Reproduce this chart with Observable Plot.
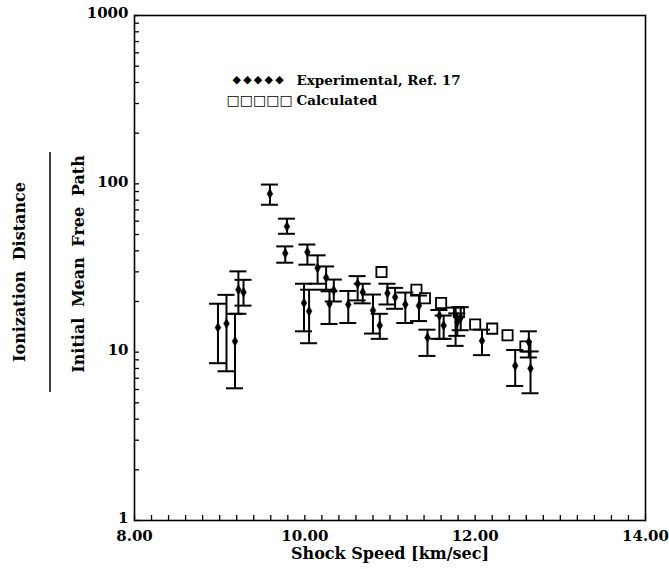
<!DOCTYPE html>
<html>
<head>
<meta charset="utf-8">
<script src="https://cdn.jsdelivr.net/npm/d3@7"></script>
<script src="https://cdn.jsdelivr.net/npm/@observablehq/plot@0.6"></script>
<style>
  body { margin: 0; background: #fff; }
</style>
</head>
<body>
<div id="chart"></div>
<script>
// Experimental ionization distances (Ref. 17) with their error ranges
const speed    = [8.98, 9.08, 9.18, 9.22, 9.28, 9.59, 9.77, 9.79, 9.99, 10.03, 10.05, 10.15, 10.25, 10.29, 10.34, 10.51, 10.62, 10.68, 10.80, 10.88, 10.97, 11.06, 11.18, 11.34, 11.44, 11.58, 11.63, 11.77, 11.79, 11.83, 12.08, 12.47, 12.63, 12.65];
const ratio    = [14.0, 14.8, 11.6, 23.5, 22.7, 87.3, 38.7, 55.8, 19.6, 39.3, 17.5, 31.6, 27.7, 19.4, 23.3, 19.2, 25.5, 22.7, 17.7, 14.4, 22.4, 21.2, 19.2, 18.9, 12.2, 16.5, 14.4, 16.5, 15.1, 16.0, 11.7, 8.3, 11.5, 8.0];
const ratioLow = [8.6, 7.7, 6.1, 16.9, 18.9, 75.1, 34.0, 50.5, 13.3, 33.1, 11.3, 25.5, 23.5, 14.7, 20.0, 14.9, 20.3, 19.5, 12.9, 12.0, 19.2, 18.1, 14.9, 15.3, 9.5, 12.0, 12.0, 10.9, 12.5, 13.5, 9.6, 6.3, 9.3, 5.7];
const ratioHigh = [19.4, 21.9, 16.9, 30.2, 26.9, 99, 42.5, 62.1, 25.5, 43.6, 23.5, 37.6, 32.3, 23.0, 27.0, 23.1, 28.3, 25.5, 22.0, 16.9, 25.5, 24.1, 22.6, 21.7, 13.6, 17.8, 16.5, 18.4, 17.0, 18.5, 13.6, 10.3, 13.3, 10.1];

// Calculated values
const calcSpeed = [10.90, 11.31, 11.41, 11.60, 11.81, 12.00, 12.20, 12.38, 12.59];
const calcRatio = [29.9, 23.5, 20.9, 19.6, 17.3, 14.6, 13.8, 12.6, 10.8];

// Axis ticks and labels
const xTickLabels = [8, 10, 12, 14];
const xMinorTicks = d3.range(0, 31).map(i => 8 + i * 0.2);
const yTickLabels = [1, 10, 100, 1000];
const yMinorTicks = [1, 10, 100].flatMap(d => d3.range(1, 10).map(k => k * d)).concat([1000]);

// Legend entries
const legendSymbols = ["\u25C6\u2009\u25C6\u2009\u25C6\u2009\u25C6\u2009\u25C6", "\u25A1\u25A1\u25A1\u25A1\u25A1"];
const legendLabels = ["Experimental, Ref. 17", "Calculated"];

const experimental = speed.map((x, i) => ({x, y: ratio[i], lo: ratioLow[i], hi: ratioHigh[i]}));
const calculated = calcSpeed.map((x, i) => ({x, y: calcRatio[i]}));

const FONT = "DejaVu Serif";
const capHalf = 0.1; // half width of the error-bar caps, km/sec

// Two-level y title: "Ionization Distance" over "Initial Mean Free Path"
function yTitle(index, scales, values, dims) {
  const g = d3.create("svg:g")
    .attr("font-family", FONT)
    .attr("font-weight", "bold")
    .attr("font-size", 16)
    .attr("word-spacing", 5)
    .attr("fill", "black");
  g.append("text")
    .attr("transform", "translate(19,272) rotate(-90)")
    .attr("text-anchor", "middle")
    .attr("dy", "0.35em")
    .text("Ionization Distance");
  g.append("line")
    .attr("x1", 50).attr("x2", 50)
    .attr("y1", 152).attr("y2", 392)
    .attr("stroke", "black")
    .attr("stroke-width", 1.5);
  g.append("text")
    .attr("transform", "translate(78,264) rotate(-90)")
    .attr("text-anchor", "middle")
    .attr("dy", "0.35em")
    .text("Initial Mean Free Path");
  return g.node();
}

const chart = Plot.plot({
  width: 669,
  height: 569,
  marginLeft: 134,
  marginRight: 24,
  marginTop: 15,
  marginBottom: 49,
  style: {fontFamily: FONT, fontSize: "16px", fontWeight: "bold", color: "black", background: "white"},
  x: {domain: [8, 14], axis: null},
  y: {type: "log", domain: [1, 1000], axis: null},
  marks: [
    Plot.frame({stroke: "black", strokeWidth: 1.6}),
    Plot.axisX(xMinorTicks, {anchor: "bottom", tickSize: -5, tickFormat: () => "", label: null, strokeWidth: 1.3}),
    Plot.axisY(yMinorTicks, {anchor: "left", tickSize: -5, tickFormat: () => "", label: null, strokeWidth: 1.3}),
    Plot.text(xTickLabels, {x: d => d, frameAnchor: "bottom", dy: 20, text: d => d3.format(".2f")(d), fontSize: 15, fontWeight: "bold"}),
    Plot.text(yTickLabels, {y: d => d, frameAnchor: "left", dx: -6, dy: -2, textAnchor: "end", text: d => String(d), fontSize: 15, fontWeight: "bold"}),
    Plot.text(["Shock Speed [km/sec]"], {frameAnchor: "bottom", dy: 38, text: d => d, fontSize: 16, fontWeight: "bold"}),
    yTitle,
    // legend
    Plot.text([legendSymbols[0]], {frameAnchor: "top-left", dx: 98, dy: 60, textAnchor: "start", text: d => d, fontSize: 11, fontFamily: "DejaVu Sans"}),
    Plot.text([legendLabels[0]], {frameAnchor: "top-left", dx: 162, dy: 60, textAnchor: "start", text: d => d, fontSize: 13.5, fontWeight: "bold"}),
    Plot.text([legendSymbols[1]], {frameAnchor: "top-left", dx: 92, dy: 80, textAnchor: "start", text: d => d, fontSize: 14, fontFamily: "DejaVu Sans"}),
    Plot.text([legendLabels[1]], {frameAnchor: "top-left", dx: 162, dy: 80, textAnchor: "start", text: d => d, fontSize: 13.5, fontWeight: "bold"}),
    // calculated squares
    Plot.dot(calculated, {x: "x", y: "y", symbol: "square2", r: 6.5, stroke: "black", strokeWidth: 1.8, fill: "white"}),
    // experimental error bars
    Plot.ruleX(experimental, {x: "x", y1: "lo", y2: "hi", stroke: "black", strokeWidth: 2}),
    Plot.ruleY(experimental, {y: "hi", x1: d => d.x - capHalf, x2: d => d.x + capHalf, stroke: "black", strokeWidth: 2}),
    Plot.ruleY(experimental, {y: "lo", x1: d => d.x - capHalf, x2: d => d.x + capHalf, stroke: "black", strokeWidth: 2}),
    Plot.dot(experimental, {x: "x", y: "y", symbol: "diamond", r: 3, fill: "black", stroke: "black", strokeWidth: 0.5})
  ]
});

document.getElementById("chart").append(chart);
</script>
</body>
</html>
